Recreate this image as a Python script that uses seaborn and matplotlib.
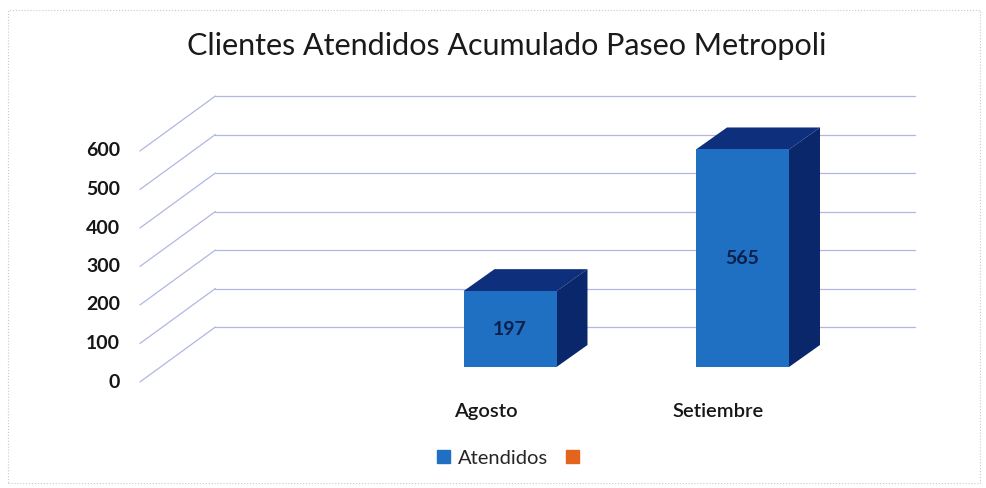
import matplotlib
matplotlib.use('Agg')
import matplotlib.pyplot as plt
import matplotlib.patches as mpatches
from matplotlib.patches import Polygon, Rectangle
import seaborn as sns
import pandas as pd

meses = ['Agosto', 'Setiembre']
atendidos = [197, 565]
ticks_y = [0, 100, 200, 300, 400, 500, 600]
titulo = 'Clientes Atendidos Acumulado Paseo Metropoli'

df = pd.DataFrame({'mes': meses, 'atendidos': atendidos})

sns.set_style('white')
plt.rcParams['font.family'] = ['Lato', 'DejaVu Sans']

azul = '#1f6fc2'
azul_osc = '#0e2f7c'
azul_lado = '#0b276c'
naranja = '#e4641e'
grid_col = '#b0b7e3'

fig = plt.figure(figsize=(9.86, 4.88), dpi=100)
ax = fig.add_axes([0, 0, 1, 1])

# pixel -> data scale (category step 232.5 px, 0.385 px per unit)
px_c = 232.5
px_v = 0.385

def off(dx, dy):
    return dx / px_c, -dy / px_v

# depth offsets relative to the bar plane
dc_bar, dv_bar = off(31, -22)
dc_back, dv_back = off(56, -40)
dc_front, dv_front = off(-19.5, 15)

wall_l, wall_r = -1.508, 1.503

# back wall gridlines + diagonal side lines
for v in ticks_y:
    ax.plot([wall_l + dc_back, wall_r + dc_back], [v + dv_back, v + dv_back],
            color=grid_col, lw=0.9, zorder=0)
    ax.plot([wall_l + dc_front, wall_l + dc_back], [v + dv_front, v + dv_back],
            color=grid_col, lw=0.9, zorder=0)
    ax.text(wall_l + dc_front - 0.085, v + dv_front, str(v), ha='right',
            va='center', fontsize=14, fontweight='bold', color='#161616')

sns.barplot(data=df, x='mes', y='atendidos', width=0.4, color=azul,
            saturation=1, ax=ax, zorder=3, linewidth=0)

for i, p in enumerate(ax.patches):
    x0, w, h = p.get_x(), p.get_width(), p.get_height()
    top = Polygon([(x0, h), (x0 + dc_bar, h + dv_bar),
                   (x0 + w + dc_bar, h + dv_bar), (x0 + w, h)],
                  closed=True, color=azul_osc, lw=0, zorder=2)
    side = Polygon([(x0 + w, 0), (x0 + w + dc_bar, dv_bar),
                    (x0 + w + dc_bar, h + dv_bar), (x0 + w, h)],
                   closed=True, color=azul_lado, lw=0, zorder=2)
    ax.add_patch(top)
    ax.add_patch(side)
    ax.text(x0 + w / 2, h / 2, str(atendidos[i]), ha='center', va='center',
            fontsize=14, fontweight='bold', color='#0c1f4a', zorder=5)
    ax.text(x0 + w / 2 + dc_front - 0.02, -115, meses[i],
            ha='center', va='center', fontsize=14.5, fontweight='semibold',
            color='#161616')

ax.set_xlim(-510 / px_c, (986 - 510) / px_c)
ax.set_ylim(-(488 - 367) / px_v, 367 / px_v)
ax.axis('off')

fig.text(0.514, 1 - 46 / 488, titulo, ha='center', va='center',
         fontsize=22, color='#1a1a1a')

handles = [mpatches.Patch(color=azul, label='Atendidos'),
           mpatches.Patch(color=naranja, label=' ')]
fig.legend(handles=handles, loc='center', bbox_to_anchor=(0.522, 1 - 458 / 488),
           ncol=2, frameon=False, fontsize=14.5, handlelength=0.65,
           handleheight=0.65, handletextpad=0.4, columnspacing=0.9)

fig.patches.append(Rectangle((8 / 986, 5 / 488), 972 / 986, 473 / 488,
                             transform=fig.transFigure, fill=False,
                             edgecolor='#c8c8d8', lw=0.8, ls=':'))

fig.savefig('out.png', dpi=100)
